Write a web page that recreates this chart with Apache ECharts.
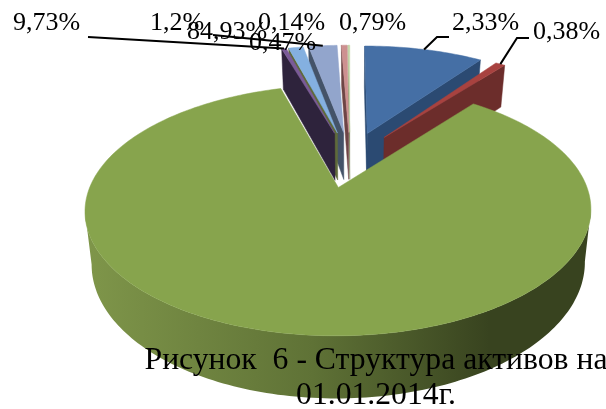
<!DOCTYPE html>
<html><head><meta charset="utf-8">
<style>html,body{margin:0;padding:0;background:#fff;overflow:hidden}#c{width:606px;height:409px}</style>
<script src="https://cdn.jsdelivr.net/npm/echarts@6/dist/echarts.min.js"></script>
</head><body><div id="c"></div>
<script>
// data (clockwise from 12 o'clock)
const sliceNames = ['blue','red','green','purple','sky','periwinkle','pink','pale'];
const sliceValues = [9.73, 0.79, 84.93, 0.38, 1.2, 2.33, 0.47, 0.14];
const labelTexts = ['9,73%','1,2%','84,93%','0,14%','0,47%','0,79%','2,33%','0,38%'];
const captionText = 'Рисунок  6 - Структура активов на\n01.01.2014г.';

// styles and layout
const topColors  = ['#456fa5','#a8423f','#87a44d','#7a5a98','#84b0e0','#92a5cc','#cd9090','#c5d6a8'];
const wallColors = ['#2b4a72','#6c2d2b','#5d6f35','#2e233c','#5f6a3a','#445368','#6e4545','#7e8b5f'];
const paintOrder = [7,6,5,4,3,0,1,2];
const labelAnchors = [[13,23],[150,23],[187,32],[258,23],[249,43],[339,23],[452,23],[533,32]];
// [label index, target slice index, leader start, optional elbow]
const leaders = [[0,3,[88,37],null],[1,5,[213,35],null],[6,0,[449,37],[437,37]],[7,1,[529,38],[517,38]]];
const G = {Qx:350,Qy:159,rx:238,k:111,p:0.175,h:49,e:0.25};

const total = sliceValues.reduce((a,b)=>a+b,0);
let acc = 0;
const spans = sliceValues.map(v=>{const a=acc/total*2*Math.PI;acc+=v;return [a,acc/total*2*Math.PI];});
function proj(x,y,z){const d=1+G.p*y;return [G.Qx+G.rx*x/d*(1-0.025*z),G.Qy-G.k*y/d+z*G.h/d];}
function apex(i){const m=(spans[i][0]+spans[i][1])/2;return [G.e*Math.sin(m),G.e*Math.cos(m)];}
function outer(i,t){const A=apex(i);return [A[0]+Math.sin(t),A[1]+Math.cos(t)];}
function arcAngles(i){const [a,b]=spans[i];const n=Math.max(2,Math.ceil((b-a)/0.02));const r=[];for(let j=0;j<=n;j++)r.push(a+(b-a)*j/n);return r;}

function sliceRender(params,api){
  const i=api.value(0),A=apex(i),ts=arcAngles(i),ch=[];
  const top=[proj(A[0],A[1],0)].concat(ts.map(t=>{const o=outer(i,t);return proj(o[0],o[1],0);}));
  const wall=(pts,fill)=>ch.push({type:'polygon',shape:{points:pts},style:{fill:fill,stroke:fill,lineWidth:0.5}});
  const quad=(p,q)=>[proj(p[0],p[1],0),proj(q[0],q[1],0),proj(q[0],q[1],1),proj(p[0],p[1],1)];
  const o1=outer(i,ts[0]),o2=outer(i,ts[ts.length-1]);
  if(proj(o1[0],o1[1],0)[0]<top[0][0]-0.5) wall(quad(A,o1),wallColors[i]);
  if(top[0][0]<proj(o2[0],o2[1],0)[0]-0.5) wall(quad(o2,A),wallColors[i]);
  let run=[];
  for(let j=0;j<ts.length-1;j++){
    const p=outer(i,ts[j]),q=outer(i,ts[j+1]);
    if(proj(q[0],q[1],0)[0]<proj(p[0],p[1],0)[0]){ if(!run.length)run.push(p); run.push(q); }
  }
  if(run.length>1){
    const pts=run.map(o=>proj(o[0],o[1],0)).concat(run.slice().reverse().map(o=>proj(o[0],o[1],1)));
    const fill=i===2?new echarts.graphic.LinearGradient(0,0,1,0,[{offset:0,color:'#7f964a'},{offset:0.45,color:'#5f7236'},{offset:0.8,color:'#38431f'},{offset:1,color:'#38431f'}]):wallColors[i];
    ch.push({type:'polygon',shape:{points:pts},style:{fill:fill}});
  }
  ch.push({type:'polygon',shape:{points:top},style:{fill:topColors[i],stroke:topColors[i],lineWidth:0.5}});
  return {type:'group',children:ch};
}
function labelRender(params,api){
  const i=api.value(0),a=labelAnchors[i];
  return {type:'text',x:a[0],y:a[1],style:{text:labelTexts[i],fill:'#000',font:'26px "Liberation Serif"',textAlign:'left',textVerticalAlign:'middle'}};
}
function leaderRender(params,api){
  const l=leaders[api.value(0)],s=l[1],m=(spans[s][0]+spans[s][1])/2,o=outer(s,m);
  const pts=[l[2]];if(l[3])pts.push(l[3]);pts.push(proj(o[0],o[1],0));
  return {type:'polyline',shape:{points:pts},style:{stroke:'#000',lineWidth:2,fill:null}};
}
const chart=echarts.init(document.getElementById('c'),null,{renderer:'canvas'});
chart.setOption({
  animation:false,backgroundColor:'#fff',
  title:{text:captionText,left:376,top:343,textAlign:'center',z:20,padding:0,
    textStyle:{fontFamily:'Liberation Serif',fontSize:31.7,fontWeight:'normal',color:'#000',lineHeight:35}},
  series:[
    {type:'custom',coordinateSystem:'none',silent:true,renderItem:sliceRender,data:paintOrder.map(i=>[i]),z:2},
    {type:'custom',coordinateSystem:'none',silent:true,renderItem:leaderRender,data:leaders.map((l,i)=>[i]),z:3},
    {type:'custom',coordinateSystem:'none',silent:true,renderItem:labelRender,data:labelTexts.map((t,i)=>[i]),z:4}
  ]
});
</script></body></html>
